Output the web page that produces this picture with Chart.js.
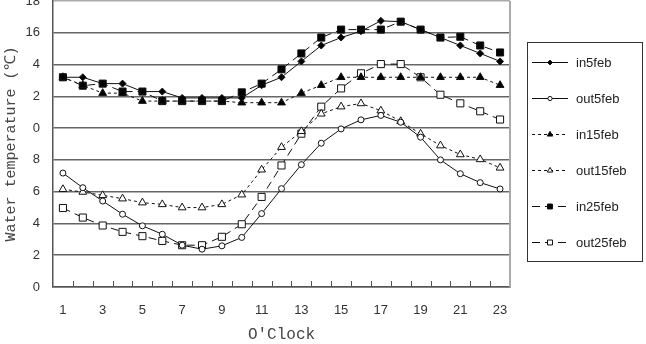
<!DOCTYPE html>
<html>
<head>
<meta charset="utf-8">
<script src="https://cdn.jsdelivr.net/npm/chart.js@4/dist/chart.umd.min.js"></script>
<style>
  html, body { margin: 0; padding: 0; background: #fff; }
</style>
</head>
<body>
<canvas id="myChart" width="646" height="344"></canvas>
<script>
// hours of the day (x categories)
var hours = ['1','2','3','4','5','6','7','8','9','10','11','12','13','14','15','16','17','18','19','20','21','22','23'];
// y tick labels as printed on the original (left digits cut off)
var yTickLabels = ['0','2','4','6','8','0','2','4','16','18'];

var in5feb   = [13.2, 13.2, 12.8, 12.8, 12.3, 12.3, 11.9, 11.9, 11.9, 11.9, 12.7, 13.2, 14.2, 15.2, 15.7, 16.1, 16.75, 16.7, 16.2, 15.7, 15.2, 14.7, 14.2];
var out5feb  = [7.17, 6.25, 5.41, 4.58, 3.85, 3.32, 2.63, 2.38, 2.59, 3.12, 4.62, 6.19, 7.7, 9.05, 9.95, 10.52, 10.8, 10.37, 9.43, 8.0, 7.13, 6.57, 6.17];
var in15feb  = [13.2, 12.7, 12.2, 12.2, 11.7, 11.7, 11.7, 11.7, 11.7, 11.6, 11.6, 11.6, 12.2, 12.7, 13.2, 13.2, 13.2, 13.2, 13.2, 13.2, 13.2, 13.2, 12.7];
var out15feb = [6.15, 5.98, 5.77, 5.56, 5.31, 5.2, 5.0, 5.0, 5.2, 5.81, 7.38, 8.8, 9.8, 10.9, 11.35, 11.55, 11.1, 10.43, 9.64, 8.9, 8.34, 8.03, 7.5];
var in25feb  = [13.2, 12.67, 12.8, 12.3, 12.3, 11.7, 11.7, 11.7, 11.7, 12.25, 12.8, 13.7, 14.7, 15.7, 16.2, 16.2, 16.2, 16.7, 16.2, 15.7, 15.75, 15.2, 14.76];
var out25feb = [4.97, 4.37, 3.87, 3.47, 3.2, 2.9, 2.63, 2.63, 3.16, 3.95, 5.67, 7.65, 9.65, 11.35, 12.5, 13.45, 14.03, 14.03, 13.2, 12.1, 11.56, 11.06, 10.54];

var makeSet = function (label, data, dash, style, filled, radius) {
  return {
    label: label,
    data: data,
    borderColor: '#111',
    borderWidth: 1,
    borderDash: dash,
    backgroundColor: filled ? '#000' : '#fff',
    pointStyle: style,
    pointRadius: radius,
    pointBorderColor: '#111',
    pointBorderWidth: 1,
    pointBackgroundColor: filled ? '#000' : '#fff',
    fill: false,
    tension: 0
  };
};

// inward tick marks on the x axis, right frame line and the boxed legend
var frame = {
  id: 'frame',
  afterDraw: function (chart) {
    var ctx = chart.ctx, a = chart.chartArea, xs = chart.scales.x;
    ctx.save();
    ctx.strokeStyle = '#aaa';
    ctx.lineWidth = 2;
    ctx.beginPath();
    ctx.moveTo(a.right, a.top);
    ctx.lineTo(a.right, a.bottom);
    ctx.stroke();

    ctx.strokeStyle = '#555';
    ctx.lineWidth = 1;
    ctx.beginPath();
    for (var i = 1; i < hours.length; i++) {
      var px = Math.round((xs.getPixelForValue(i - 1) + xs.getPixelForValue(i)) / 2) + 0.5;
      ctx.moveTo(px, a.bottom);
      ctx.lineTo(px, a.bottom - 6);
    }
    ctx.stroke();

    // legend box
    var bx = a.right + 17, by = 42, bw = 115, bh = 219;
    ctx.strokeStyle = '#333';
    ctx.lineWidth = 1;
    ctx.strokeRect(bx + 0.5, by + 0.5, bw, bh);
    ctx.font = '13px "Liberation Sans", Arial, sans-serif';
    ctx.textBaseline = 'middle';
    ctx.fillStyle = '#222';
    chart.data.datasets.forEach(function (ds, k) {
      var y = by + 20 + k * 36;
      ctx.save();
      ctx.strokeStyle = '#111';
      ctx.setLineDash(ds.borderDash || []);
      ctx.beginPath();
      ctx.moveTo(bx + 5, y + 0.5);
      ctx.lineTo(bx + 41, y + 0.5);
      ctx.stroke();
      ctx.setLineDash([]);
      ctx.fillStyle = ds.pointBackgroundColor;
      ctx.strokeStyle = '#111';
      Chart.helpers.drawPoint(ctx, {pointStyle: ds.pointStyle, radius: ds.pointRadius * 0.7, borderWidth: 1, rotation: 0}, bx + 23, y + 0.5);
      ctx.restore();
      ctx.fillText(ds.label, bx + 49, y + 1);
    });
    ctx.restore();
  }
};

var ctx = document.getElementById('myChart').getContext('2d');
var myChart = new Chart(ctx, {
  type: 'line',
  data: {
    labels: hours,
    datasets: [
      makeSet('in5feb',   in5feb,   [],     'rectRot',  true,  3.5),
      makeSet('out5feb',  out5feb,  [],     'circle',   false, 3),
      makeSet('in15feb',  in15feb,  [3, 3], 'triangle', true,  4.5),
      makeSet('out15feb', out15feb, [3, 3], 'triangle', false, 4.5),
      makeSet('in25feb',  in25feb,  [8, 5], 'rect',     true,  5),
      makeSet('out25feb', out25feb, [8, 5], 'rect',     false, 5)
    ]
  },
  options: {
    responsive: false,
    animation: false,
    layout: { autoPadding: false, padding: { top: 1, right: 136, left: 0, bottom: 0 } },
    plugins: {
      legend: { display: false },
      tooltip: { enabled: false }
    },
    scales: {
      x: {
        offset: true,
        grid: { display: false, drawTicks: false, tickLength: 0 },
        border: { display: true, color: '#555', width: 1.5 },
        ticks: {
          autoSkip: false,
          maxRotation: 0,
          padding: 16,
          color: '#333',
          font: { family: '"Liberation Sans", Arial, sans-serif', size: 13 },
          callback: function (v, i) { return i % 2 === 0 ? hours[i] : ''; }
        },
        title: {
          display: true,
          text: "O'Clock",
          color: '#444',
          font: { family: '"Liberation Mono", "DejaVu Sans Mono", monospace', size: 16 },
          padding: { top: 0, bottom: 0 }
        },
        afterFit: function (scale) {
          scale.height = 57;
          scale.paddingLeft = 0;
          scale.paddingRight = 0;
        }
      },
      y: {
        min: 0,
        max: 18,
        grid: {
          drawTicks: false,
          tickLength: 0,
          color: function (c) { return c.tick && c.tick.value === 18 ? '#aaa' : '#666'; },
          lineWidth: 1.5
        },
        border: { display: true, color: '#555', width: 1.5 },
        ticks: {
          stepSize: 2,
          padding: 13,
          color: '#333',
          font: { family: '"Liberation Sans", Arial, sans-serif', size: 13 },
          callback: function (v, i) { return yTickLabels[i]; }
        },
        title: {
          display: true,
          text: 'Water temperature (℃)',
          color: '#444',
          font: { family: '"Liberation Mono", "DejaVu Sans Mono", monospace', size: 15 },
          padding: { top: 2, bottom: 0 }
        },
        afterFit: function (scale) {
          scale.width = 53;
          scale.paddingTop = 0;
          scale.paddingBottom = 0;
        }
      }
    }
  },
  plugins: [frame]
});
</script>
</body>
</html>
